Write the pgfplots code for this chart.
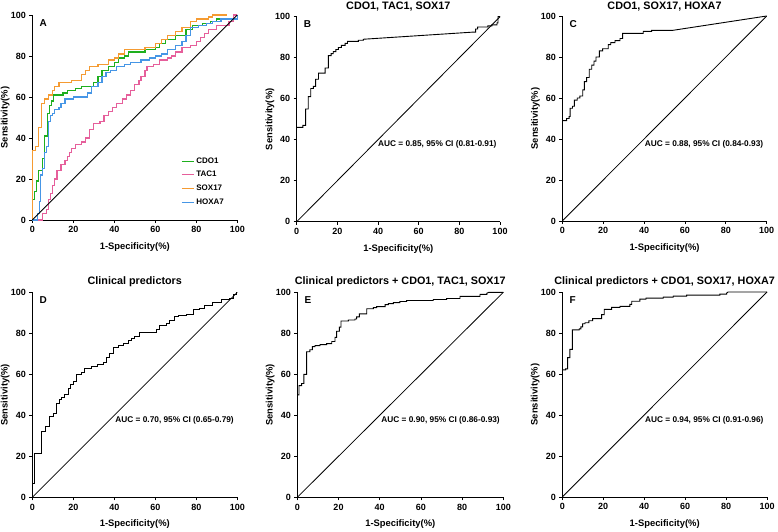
\documentclass[border=0pt]{standalone}
\usepackage{fontspec}
\setmainfont{Liberation Sans}
\usepackage{pgfplots}
\pgfplotsset{compat=1.18}
\definecolor{cdo}{RGB}{30,175,30}
\definecolor{tac}{RGB}{230,95,155}
\definecolor{sox}{RGB}{245,155,50}
\definecolor{hoxblue}{RGB}{70,150,230}
\pgfplotsset{
  rocax/.style={
    scale only axis, width=205pt, height=205pt,
    xmin=0, xmax=100, ymin=0, ymax=100,
    enlargelimits=false,
    axis x line*=bottom, axis y line*=left,
    axis line style={-, line width=0.8pt},
    tick style={line width=0.8pt, black},
    tick align=outside, major tick length=3pt,
    xtick={0,20,...,100}, ytick={0,20,...,100},
    /pgf/number format/assume math mode=true,
    ticklabel style={font=\bfseries\fontsize{9}{10}\selectfont},
    xlabel={1-Specificity(\%)}, ylabel={Sensitivity(\%)},
    label style={font=\bfseries\fontsize{9.4}{11}\selectfont},
    xlabel style={at={(axis description cs:0.5,-0.132)}, anchor=center},
    ylabel style={at={(axis description cs:-0.132,0.5)}, anchor=center},
    clip=false,
  },
  diag/.style={black, line width=0.8pt, forget plot},
  roc/.style={black, line width=0.9pt},
  col/.style={#1, line width=1.25pt},
}
\newcommand{\panel}[1]{\node[anchor=west, font=\bfseries\fontsize{10}{11}\selectfont] at (axis description cs:0.018,0.963) {#1};}
\newcommand{\auc}[1]{\node[anchor=east, font=\bfseries\fontsize{8.3}{10}\selectfont] at (axis cs:100,37.5) {#1};}
\newcommand{\ptitle}[2]{\node[anchor=base, inner sep=0pt, font=\bfseries\fontsize{10.8}{12}\selectfont] at (axis description cs:0.5,#2) {#1};}
\begin{document}
\begin{tikzpicture}
\useasboundingbox (0pt,0pt) rectangle (778pt,531pt);
% ---------------- A
\begin{axis}[rocax, at={(32.3pt,311pt)}, anchor=south west,
  legend style={at={(axis cs:72.5,31.5)}, anchor=north west, draw=none, fill=none,
    font=\bfseries\fontsize{8}{9.5}\selectfont, row sep=2.6pt, inner sep=0pt,
    /tikz/every even column/.append style={column sep=7pt}},
  legend cell align=left,
  legend image code/.code={\draw[#1] (0pt,0pt) -- (12pt,0pt);}]
\addplot[col=cdo] coordinates {(0,0)(0,10)(1,10)(1,14)(2,14)(2,19)(3,19)(3,24)(5,24)(5,30)(6,30)(6,41)(7.5,41)(7.5,52)(8.5,52)(8.5,56)(9.5,56)(9.5,58)(10.5,58)(10.5,61)(15,61)(15,62)(17,62)(17,63)(21,63)(21,64)(24,64)(24,65)(30,65)(30,67)(32,67)(32,70)(34,70)(34,73)(37,73)(37,75)(40,75)(40,77)(42,77)(42,79)(45,79)(45,80)(47,80)(47,82)(55,82)(55,83)(60,83)(60,84)(62,84)(62,86)(65,86)(65,88)(70,88)(70,90)(75,90)(75,93)(78,93)(78,95)(83,95)(83,96)(87,96)(87,97)(90,97)(90,98)(100,98)(100,100)};
\addlegendentry{CDO1}
\addplot[col=tac] coordinates {(0,0)(5,0)(5,3)(7,3)(7,5)(8,5)(8,10)(9,10)(9,13)(10,13)(10,17)(11,17)(11,20)(12,20)(12,24)(14,24)(14,27)(16,27)(16,29)(17,29)(17,31)(18,31)(18,33)(19,33)(19,35)(21,35)(21,37)(24,37)(24,38)(26,38)(26,40)(28,40)(28,44)(30,44)(30,47)(33,47)(33,48)(35,48)(35,51)(37,51)(37,53)(39,53)(39,55)(41,55)(41,57)(44,57)(44,59)(46,59)(46,61)(48,61)(48,63)(50,63)(50,66)(52,66)(52,68)(53,68)(53,70)(55,70)(55,73)(56,73)(56,75)(59,75)(59,76)(62,76)(62,78)(66,78)(66,79)(68,79)(68,80)(70,80)(70,82)(73,82)(73,84)(77,84)(77,85)(80,85)(80,87)(82,87)(82,89)(84,89)(84,91)(86,91)(86,93)(90,93)(90,95)(96,95)(96,97)(98,97)(98,100)(100,100)};
\addlegendentry{TAC1}
\addplot[col=sox] coordinates {(0,0)(0,34)(1.5,34)(1.5,36)(3,36)(3,45)(4.5,45)(4.5,57)(6,57)(6,59)(8,59)(8,61)(10,61)(10,63)(11,63)(11,65)(13,65)(13,67)(19,67)(19,68)(24,68)(24,71)(26,71)(26,73)(28,73)(28,75)(32,75)(32,76)(37,76)(37,78)(40,78)(40,79)(42,79)(42,81)(45,81)(45,83)(55,83)(55,84)(60,84)(60,86)(63,86)(63,88)(66,88)(66,90)(70,90)(70,92)(73,92)(73,94)(77,94)(77,97)(80,97)(80,98)(86,98)(86,99)(88,99)(88,100)(95,100)};
\addlegendentry{SOX17}
\addplot[col=hoxblue] coordinates {(0,0)(2.5,0)(2.5,3)(3.5,3)(3.5,9)(4,9)(4,22)(5,22)(5,25)(6,25)(6,33)(7,33)(7,36)(8,36)(8,48)(9,48)(9,51)(10,51)(10,52)(11,52)(11,54)(13,54)(13,55)(14,55)(14,57)(16,57)(16,59)(20,59)(20,60)(27,60)(27,62)(29,62)(29,65)(32,65)(32,67)(34,67)(34,70)(36,70)(36,72)(38,72)(38,73)(41,73)(41,75)(45,75)(45,76)(48,76)(48,77)(53,77)(53,78)(57,78)(57,79)(60,79)(60,80)(63,80)(63,81)(66,81)(66,83)(70,83)(70,85)(73,85)(73,87)(75,87)(75,90)(77,90)(77,94)(81,94)(81,95)(85,95)(85,96)(88,96)(88,97)(92,97)(92,98)(100,98)(100,100)};
\addlegendentry{HOXA7}
\addplot[diag] coordinates {(0,0)(100,100)};
\panel{A}
\end{axis}
% ---------------- B
\begin{axis}[rocax, at={(296.7pt,309.3pt)}, anchor=south west, width=203.3pt]
\addplot[diag] coordinates {(0,0)(100,100)};
\addplot[roc] coordinates {(0,46)(3,46)(3,47)(4.4,47)(4.4,55)(5.7,55)(5.7,61)(6.9,61)(6.9,65)(8.2,65)(8.2,66)(9.3,66)(9.3,69.5)(10.7,69.5)(10.7,72.5)(14,72.5)(14,75)(15.6,75)(15.6,81)(16.9,81)(16.9,82)(18,82)(18,83)(19.3,83)(19.3,84)(20.5,84)(20.5,85)(22,85)(22,86)(23.8,86)(23.8,87)(25,87)(25,88)(30.3,88)(30.3,88.5)(32.8,88.5)(32.8,89)(87,92.5)(88,92.5)(88,94)(89,94)(89,95)(94,95)(94,95.5)(96,95.5)(96,96)(98.5,96)(98.5,97)(99,97)(99,100)(100,100)};
\auc{AUC = 0.85, 95\% CI (0.81-0.91)}
\panel{B}
\ptitle{CDO1, TAC1, SOX17}{1.033}
\end{axis}
% ---------------- C
\begin{axis}[rocax, at={(562.3pt,310pt)}, anchor=south west, width=204.4pt]
\addplot[diag] coordinates {(0,0)(100,100)};
\addplot[roc] coordinates {(0,49)(2.1,49)(2.1,50)(3.3,50)(3.3,51)(3.8,51)(3.8,55)(5,55)(5,56)(5.9,56)(5.9,59)(7.3,59)(7.3,60)(8.6,60)(8.6,61)(10,61)(10,64)(10.8,64)(10.8,68)(11.9,68)(11.9,70)(13.2,70)(13.2,74)(14.4,74)(14.4,76)(15.5,76)(15.5,78)(16.5,78)(16.5,80)(18.1,80)(18.1,83)(19.7,83)(19.7,84)(22.5,84)(22.5,86)(23.7,86)(23.7,87)(25.8,87)(25.8,88)(28.2,88)(28.2,89)(29.5,89)(29.5,91.5)(39.6,91.5)(39.6,92.5)(43.7,92.5)(43.7,93)(54,93)(100,100)};
\auc{AUC = 0.88, 95\% CI (0.84-0.93)}
\panel{C}
\ptitle{CDO1, SOX17, HOXA7}{1.033}
\end{axis}
% ---------------- D
\begin{axis}[rocax, at={(32.3pt,33.7pt)}, anchor=south west]
\addplot[diag] coordinates {(0,0)(100,100)};
\addplot[roc] coordinates {(0,0)(0,7)(1,7)(1,21.5)(4.5,21.5)(4.5,32)(6.2,32)(6.2,34.5)(8.6,34.5)(8.6,39.5)(10.2,39.5)(10.2,41)(11.9,41)(11.9,46)(13.1,46)(13.1,47.5)(14.3,47.5)(14.3,48.5)(15.9,48.5)(15.9,50)(17.5,50)(17.5,53)(18.7,53)(18.7,55)(20,55)(20,56.5)(21.3,56.5)(21.3,60)(24,60)(24,61)(25.6,61)(25.6,63)(28.9,63)(28.9,64)(32,64)(32,65)(34.6,65)(34.6,66)(36.2,66)(36.2,68)(37.8,68)(37.8,70)(39.4,70)(39.4,73)(41.9,73)(41.9,74)(44.6,74)(44.6,75)(46.8,75)(46.8,76.5)(48.4,76.5)(48.4,77.5)(50,77.5)(50,78.5)(52.4,78.5)(52.4,80.5)(60.5,80.5)(60.5,82)(62.2,82)(62.2,84)(65.4,84)(65.4,85)(67,85)(67,86.5)(69.5,86.5)(69.5,88)(71.1,88)(71.1,88.5)(75.2,88.5)(75.2,89)(78.4,89)(78.4,91.5)(81.7,91.5)(81.7,92)(84.1,92)(84.1,93.5)(88.1,93.5)(88.1,95)(92.2,95)(92.2,96.5)(96.3,96.5)(96.3,97)(98,97)(98,99)(99.5,99)(99.5,100)(100,100)};
\auc{AUC = 0.70, 95\% CI (0.65-0.79)}
\panel{D}
\ptitle{Clinical predictors}{1.038}
\end{axis}
% ---------------- E
\begin{axis}[rocax, at={(297.3pt,33.7pt)}, anchor=south west, width=206pt]
\addplot[diag] coordinates {(0,0)(100,100)};
\addplot[roc] coordinates {(0,50)(0.8,50)(0.8,54.5)(2.1,54.5)(2.1,55.5)(3.2,55.5)(3.2,60)(4.5,60)(4.5,71)(6.1,71)(6.1,72)(7.3,72)(7.3,73.5)(8.6,73.5)(8.6,74)(11,74)(11,74.5)(14.2,74.5)(14.2,75)(16.7,75)(16.7,76)(18.3,76)(18.3,78)(19.1,78)(19.1,81)(20.4,81)(20.4,83)(21.2,83)(21.2,86)(24.8,86)(24.8,86.5)(28,86.5)(28,87)(28.8,87)(28.8,88)(30.1,88)(30.1,89.5)(33.7,89.5)(33.7,92)(36.9,92)(36.9,92.5)(38.5,92.5)(38.5,93)(42.6,93)(42.6,94)(44.2,94)(44.2,94.5)(46.6,94.5)(46.6,95)(49.8,95)(49.8,95.5)(53.1,95.5)(53.1,96)(66,96)(66,96.5)(72.5,96.5)(72.5,97)(79,97)(79,98)(88.7,98)(88.7,99)(92,99)(92,99.5)(93,100)(100,100)};
\auc{AUC = 0.90, 95\% CI (0.86-0.93)}
\panel{E}
\ptitle{Clinical predictors + CDO1, TAC1, SOX17}{1.038}
\end{axis}
% ---------------- F
\begin{axis}[rocax, at={(562.3pt,34pt)}, anchor=south west, width=204.7pt]
\addplot[diag] coordinates {(0,0)(100,100)};
\addplot[roc] coordinates {(0,62)(1.6,62)(1.6,62.5)(2.6,62.5)(2.6,68)(3.7,68)(3.7,72)(4.9,72)(4.9,81.5)(8.3,81.5)(8.3,82)(9.1,82)(9.1,83)(9.9,83)(9.9,84.5)(11.1,84.5)(11.1,85)(13,85)(13,86)(14.8,86)(14.8,87)(19.2,87)(19.2,89)(20.5,89)(20.5,91.5)(24.1,91.5)(24.1,92.5)(28.2,92.5)(28.2,93)(33,93)(33,94)(33.9,94)(33.9,95.5)(37.9,95.5)(37.9,96.5)(40.9,96.5)(40.9,97)(49.3,97)(49.3,97.5)(54.2,97.5)(54.2,98)(60.7,98)(60.7,98.5)(77,98.5)(77,99)(80.3,99)(80.3,99.5)(81,100)(100,100)};
\auc{AUC = 0.94, 95\% CI (0.91-0.96)}
\panel{F}
\ptitle{Clinical predictors + CDO1, SOX17, HOXA7}{1.038}
\end{axis}
\end{tikzpicture}
\end{document}
